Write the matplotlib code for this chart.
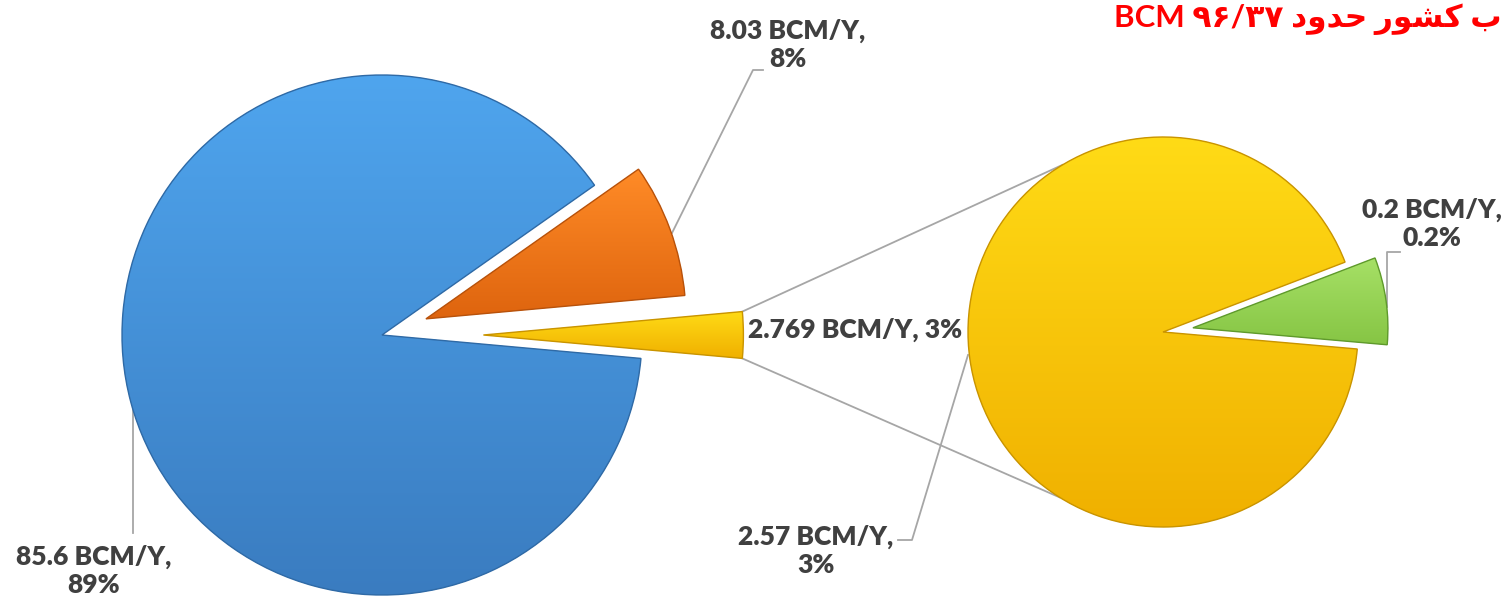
"""Pie-of-pie chart: water resources (BCM/Y)."""

import numpy as np
import matplotlib
matplotlib.use("Agg")
import matplotlib.pyplot as plt
from matplotlib.colors import to_rgb
from matplotlib.patches import PathPatch

# data
main_values = [85.6, 8.03, 2.769]
main_labels = ["85.6 BCM/Y,\n89%", "8.03 BCM/Y,\n8%", "2.769 BCM/Y, 3%"]
sub_values = [2.57, 0.2]
sub_labels = ["2.57 BCM/Y,\n3%", "0.2 BCM/Y,\n0.2%"]

# title in visual order (BCM 96/37 hodud keshvar b), Arabic presentation forms
title = ("BCM \u06F9\u06F6/\u06F3\u06F7 "
         "\uFEA9\uFEED\uFEAA\uFEA3 "
         "\uFEAD\uFEEE\uFEB8\uFB90 "
         "\uFE8F")

main_colors = [("#4fa5ee", "#3a7cc0"), ("#ff8b27", "#de640e"), ("#ffdb16", "#f0b000")]
main_edges = ["#2f6aa6", "#b8520b", "#c99400"]
sub_colors = [("#ffdb16", "#f0b000"), ("#a6e066", "#86c544")]
sub_edges = ["#c99400", "#5f9a2c"]

W, H = 1505, 599
TXT = "#404040"
LINE = "#a6a6a6"


def fill_gradient(ax, wedge, top, bottom, edge):
    bb = wedge.get_path().get_extents()
    t = np.linspace(0, 1, 256)[:, None]
    grad = (1 - t) * np.array(to_rgb(top)) + t * np.array(to_rgb(bottom))
    im = ax.imshow(grad[:, None, :], extent=(bb.x0, bb.x1, bb.y0, bb.y1),
                   origin="upper", aspect="auto", interpolation="bilinear", zorder=2)
    im.set_clip_path(wedge)
    ax.add_patch(PathPatch(wedge.get_path(), fill=False, ec=edge, lw=1.0, zorder=3))


fig = plt.figure(figsize=(W / 100, H / 100), dpi=100)
ax = fig.add_axes([0, 0, 1, 1])

# main pie (explode in data units = pixels)
c1, r1 = (382, H - 335), 260
yellow_deg = 360 * main_values[2] / sum(main_values)
wedges1, _ = ax.pie(main_values, center=c1, radius=r1, startangle=-yellow_deg / 2,
                    counterclock=False, explode=[0.0, 0.18 * r1, 0.39 * r1],
                    wedgeprops=dict(lw=0, zorder=1))
for w, (top, bot), e in zip(wedges1, main_colors, main_edges):
    w.set_facecolor(bot)
    fill_gradient(ax, w, top, bot, e)

# secondary pie
c2, r2 = (1163, H - 332), 195
wedges2, _ = ax.pie(sub_values, center=c2, radius=r2, startangle=-5,
                    counterclock=False, explode=[0.0, 0.155 * r2],
                    wedgeprops=dict(lw=0, zorder=1))
for w, (top, bot), e in zip(wedges2, sub_colors, sub_edges):
    w.set_facecolor(bot)
    fill_gradient(ax, w, top, bot, e)

# connector lines between the two pies
yw = wedges1[2]
ycx, ycy = yw.center
for a_main, a_sub in [(yw.theta2, 121), (yw.theta1, 238)]:
    x0 = ycx + r1 * np.cos(np.radians(a_main))
    y0 = ycy + r1 * np.sin(np.radians(a_main))
    x1 = c2[0] + r2 * np.cos(np.radians(a_sub))
    y1 = c2[1] + r2 * np.sin(np.radians(a_sub))
    ax.plot([x0, x1], [y0, y1], color=LINE, lw=1.3, zorder=0)

# leader lines (image pixel coords, y down)
leaders = [
    [(672, 233), (753, 70), (763, 70)],
    [(133, 403), (133, 533)],
    [(968, 355), (912, 540), (898, 540)],
    [(1387, 307), (1387, 252), (1400, 252)],
]
for pts in leaders:
    xs, ys = zip(*pts)
    ax.plot(xs, [H - y for y in ys], color=LINE, lw=1.3, zorder=0)

font = dict(family="Lato", weight=800, color=TXT, fontsize=19,
            linespacing=1.2, zorder=5)
ax.text(94, H - 571, main_labels[0], ha="center", va="center", **font)
ax.text(788, H - 45, main_labels[1], ha="center", va="center", **font)
ax.text(748, H - 330, main_labels[2], ha="left", va="center", **font)
ax.text(816, H - 551, sub_labels[0], ha="center", va="center", **font)
ax.text(1432, H - 224, sub_labels[1], ha="center", va="center", **font)

ax.text(1502, H - 19, title, ha="right", va="center", color="#ff0000",
        fontsize=22.5, fontweight="bold", family=["Lato", "DejaVu Sans"], zorder=5)

ax.set_xlim(0, W)
ax.set_ylim(0, H)
ax.set_aspect("auto")
ax.axis("off")
fig.savefig("out.png", dpi=100, facecolor="white")
